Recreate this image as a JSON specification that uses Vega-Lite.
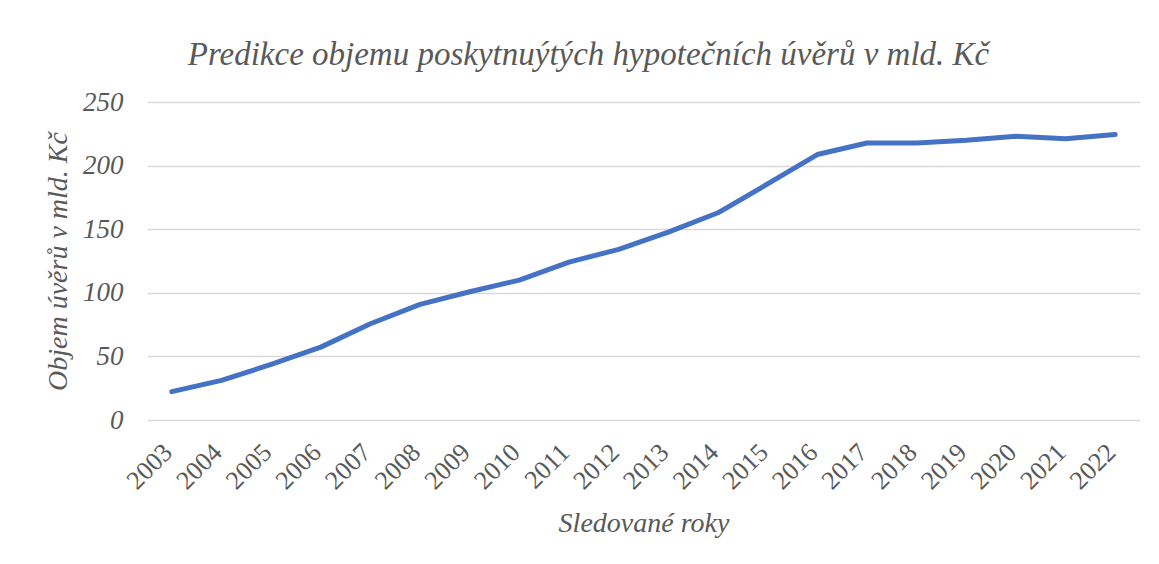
{
  "$schema": "https://vega.github.io/schema/vega-lite/v6.json",
  "width": 993,
  "height": 318,
  "autosize": {"type": "none"},
  "padding": {"left": 147, "top": 102, "right": 19, "bottom": 144},
  "background": "white",
  "title": {
    "text": "Predikce objemu poskytnuýtých hypotečních úvěrů v mld. Kč",
    "font": "Liberation Serif",
    "fontStyle": "italic",
    "fontWeight": "normal",
    "fontSize": 33,
    "color": "#595959",
    "anchor": "middle",
    "baseline": "alphabetic",
    "offset": -10,
    "dx": -55
  },
  "data": {
    "values": [
      {"rok": "2003", "objem": 22.3},
      {"rok": "2004", "objem": 31.2},
      {"rok": "2005", "objem": 43.7},
      {"rok": "2006", "objem": 57.3},
      {"rok": "2007", "objem": 75.7},
      {"rok": "2008", "objem": 90.9},
      {"rok": "2009", "objem": 100.8},
      {"rok": "2010", "objem": 110.0},
      {"rok": "2011", "objem": 124.1},
      {"rok": "2012", "objem": 134.2},
      {"rok": "2013", "objem": 147.7},
      {"rok": "2014", "objem": 162.9},
      {"rok": "2015", "objem": 185.6},
      {"rok": "2016", "objem": 208.7},
      {"rok": "2017", "objem": 217.8},
      {"rok": "2018", "objem": 217.8},
      {"rok": "2019", "objem": 219.9},
      {"rok": "2020", "objem": 223.0},
      {"rok": "2021", "objem": 221.2},
      {"rok": "2022", "objem": 224.4}
    ]
  },
  "mark": {"type": "line", "color": "#4472C4", "strokeWidth": 5, "strokeCap": "round", "strokeJoin": "round"},
  "encoding": {
    "x": {
      "field": "rok",
      "type": "ordinal",
      "scale": {"type": "point", "padding": 0.5},
      "axis": {
        "title": "Sledované roky",
        "titleFont": "Liberation Serif",
        "titleFontStyle": "italic",
        "titleFontWeight": "normal",
        "titleFontSize": 28,
        "titleColor": "#595959",
        "titlePadding": 16,
        "labelFont": "Liberation Serif",
        "labelFontSize": 26,
        "labelColor": "#595959",
        "labelAngle": -45,
        "labelAlign": "right",
        "labelBaseline": "bottom",
        "labelPadding": 37,
        "labelOffset": 5,
        "ticks": false,
        "tickSize": 0,
        "domain": false,
        "grid": false
      }
    },
    "y": {
      "field": "objem",
      "type": "quantitative",
      "scale": {"domain": [0, 250], "nice": false, "zero": true},
      "axis": {
        "values": [0, 50, 100, 150, 200, 250],
        "title": "Objem úvěrů v mld. Kč",
        "titleFont": "Liberation Serif",
        "titleFontStyle": "italic",
        "titleFontWeight": "normal",
        "titleFontSize": 28,
        "titleColor": "#595959",
        "titlePadding": 10,
        "labelFont": "Liberation Serif",
        "labelFontStyle": "italic",
        "labelFontSize": 27,
        "labelColor": "#595959",
        "labelPadding": 24,
        "ticks": false,
        "tickSize": 0,
        "domain": false,
        "grid": true,
        "gridColor": "#d9d9d9",
        "gridWidth": 1.5
      }
    }
  },
  "config": {"view": {"stroke": null}}
}
